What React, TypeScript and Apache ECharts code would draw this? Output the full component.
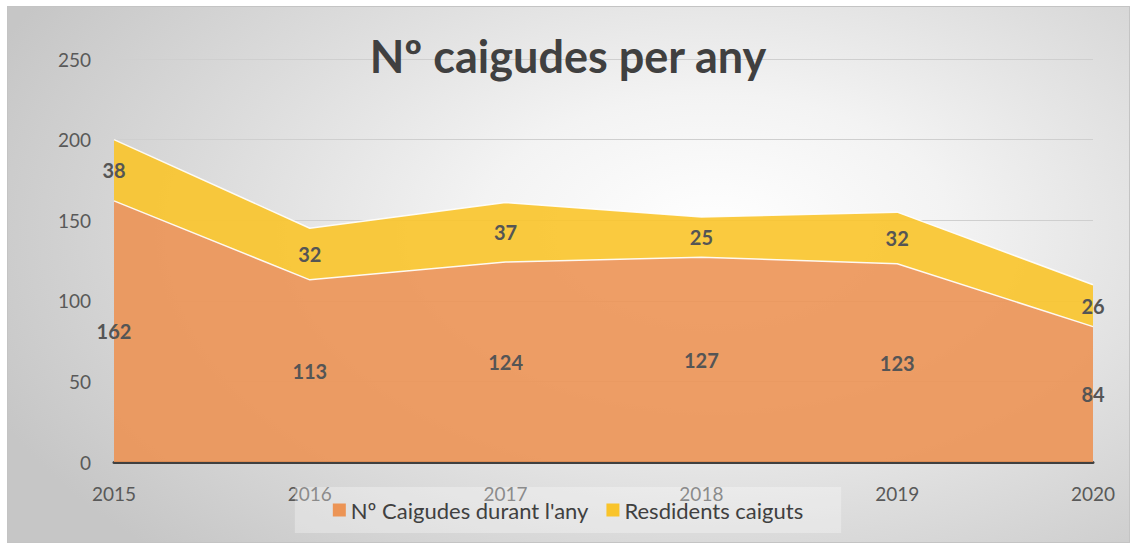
import React, { useEffect, useRef } from "react";
import * as echarts from "echarts";

const years = ["2015", "2016", "2017", "2018", "2019", "2020"];
const caigudes = [162, 113, 124, 127, 123, 84];
const residents = [38, 32, 37, 25, 32, 26];
const yTicks = { min: 0, max: 250, interval: 50 };
const nameCaigudes = "Nº Caigudes durant l'any";
const nameResidents = "Resdidents caiguts";

const FONT = "Lato, 'Noto Sans', sans-serif";

export default function App() {
  const ref = useRef<HTMLDivElement>(null);

  useEffect(() => {
    if (!ref.current) return;
    const chart = echarts.init(ref.current, null, { renderer: "svg" });
    const midOrange = caigudes.map((v) => v / 2);
    const midYellow = caigudes.map((v, i) => v + residents[i] / 2);
    const labelStyle = {
      show: true,
      position: "inside" as const,
      fontFamily: FONT,
      fontSize: 20,
      fontWeight: "bold" as const,
      color: "#555555",
    };
    chart.setOption({
      animation: false,
      textStyle: { fontFamily: FONT },
      title: {
        text: "Nº caigudes per any",
        left: "center",
        top: 28,
        textStyle: {
          fontFamily: FONT,
          fontSize: 45,
          fontWeight: "bold",
          color: "#404040",
        },
      },
      legend: {
        data: [nameCaigudes, nameResidents],
        bottom: 11,
        left: "center",
        itemWidth: 13,
        itemHeight: 13,
        itemGap: 18,
        icon: "rect",
        padding: [12, 38],
        backgroundColor: "rgba(255,255,255,0.3)",
        textStyle: { fontFamily: FONT, fontSize: 22, color: "#404040" },
      },
      grid: { left: 114, right: 43, top: 59, bottom: 82 },
      xAxis: {
        type: "category",
        data: years,
        boundaryGap: false,
        axisLine: { show: true, lineStyle: { color: "#404040", width: 3 } },
        axisTick: { show: false },
        axisLabel: { fontFamily: FONT, fontSize: 19, color: "#595959", margin: 22 },
        splitLine: { show: false },
      },
      yAxis: {
        type: "value",
        min: yTicks.min,
        max: yTicks.max,
        interval: yTicks.interval,
        axisLine: { show: false },
        axisTick: { show: false },
        axisLabel: { fontFamily: FONT, fontSize: 19, color: "#595959", margin: 23 },
        splitLine: { lineStyle: { color: "#cfcfcf", width: 1.2 } },
      },
      series: [
        {
          name: nameCaigudes,
          type: "line",
          stack: "total",
          data: caigudes,
          symbol: "none",
          lineStyle: { color: "#ffffff", width: 1.5, opacity: 0.9 },
          itemStyle: { color: "#EC9455" },
          areaStyle: { color: "#EC9455", opacity: 0.9 },
          z: 2,
        },
        {
          name: nameResidents,
          type: "line",
          stack: "total",
          data: residents,
          symbol: "none",
          lineStyle: { color: "#ffffff", width: 1.5, opacity: 0.9 },
          itemStyle: { color: "#F9C42A" },
          areaStyle: { color: "#F9C42A", opacity: 0.9 },
          z: 2,
        },
        {
          name: "labelsOrange",
          type: "line",
          data: midOrange,
          symbol: "circle",
          symbolSize: 1,
          showSymbol: true,
          itemStyle: { color: "rgba(0,0,0,0)" },
          lineStyle: { width: 0, color: "rgba(0,0,0,0)" },
          label: {
            ...labelStyle,
            formatter: (p: any) => String(caigudes[p.dataIndex]),
          },
          z: 5,
          silent: true,
        },
        {
          name: "labelsYellow",
          type: "line",
          data: midYellow,
          symbol: "circle",
          symbolSize: 1,
          showSymbol: true,
          itemStyle: { color: "rgba(0,0,0,0)" },
          lineStyle: { width: 0, color: "rgba(0,0,0,0)" },
          label: {
            ...labelStyle,
            formatter: (p: any) => String(residents[p.dataIndex]),
          },
          z: 5,
          silent: true,
        },
      ],
    });
    return () => chart.dispose();
  }, []);

  return (
    <div
      style={{
        position: "fixed",
        left: 0,
        top: 0,
        width: 1136,
        height: 544,
        background: "#ffffff",
      }}
    >
      <div
        style={{
          position: "absolute",
          left: 7,
          top: 6,
          width: 1123,
          height: 537,
          boxSizing: "border-box",
          border: "1px solid #c4c4c4",
          background:
            "radial-gradient(ellipse 70% 85% at 63% 42%, #ffffff 0%, #f3f3f3 30%, #dcdcdc 65%, #c6c6c6 100%)",
        }}
      />
      <div
        ref={ref}
        style={{ position: "absolute", left: 0, top: 0, width: 1136, height: 544 }}
      />
    </div>
  );
}
